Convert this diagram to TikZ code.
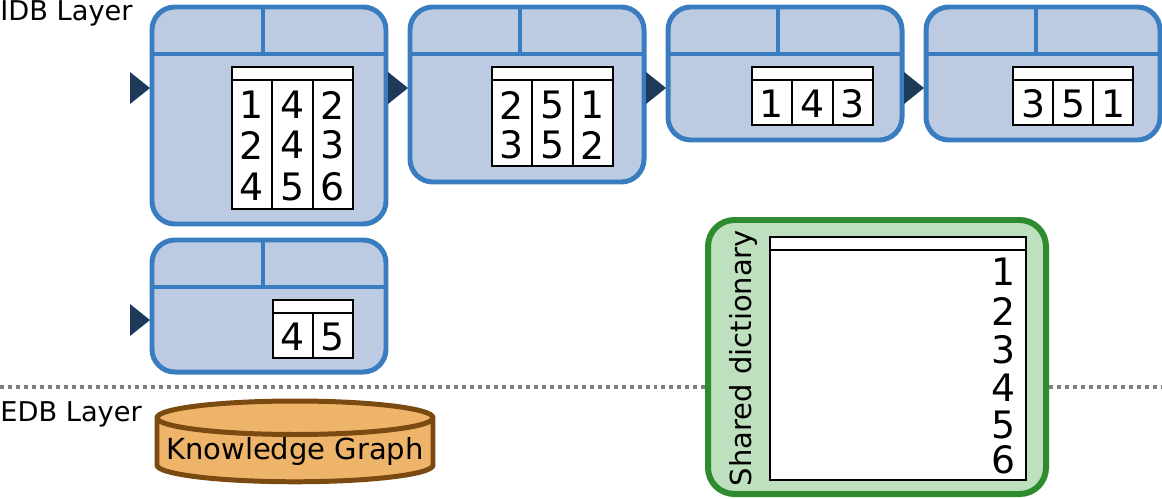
\documentclass[tikz,border=0pt]{standalone}
\usepackage{fontspec}
\setmainfont{DejaVu Sans}
\usetikzlibrary{shapes.geometric}
\definecolor{bb}{HTML}{3A7CC0}
\definecolor{bf}{HTML}{BCCBE2}
\definecolor{ar}{HTML}{1E3A5A}
\definecolor{gb}{HTML}{2E8B2E}
\definecolor{gf}{HTML}{BFE0BF}
\definecolor{ob}{HTML}{7A4A10}
\definecolor{of}{HTML}{EEB46A}
\begin{document}
\begin{tikzpicture}[x=0.02cm,y=-0.02cm,
  box/.style={draw=bb,fill=bf,line width=5*0.567pt,rounded corners=13pt},
  div/.style={draw=bb,line width=4*0.567pt},
  tab/.style={draw=black,fill=white,line width=2.5*0.567pt},
  num/.style={font=\fontsize{21.5}{23}\selectfont,inner sep=0pt},
  lab/.style={font=\fontsize{15.5}{17}\selectfont,inner sep=0pt,anchor=west},
  tri/.style={fill=ar}]
\useasboundingbox (0,0) rectangle (1162,498);
\newcommand{\mybox}[5]{%
  \draw[box] (#1,#2) rectangle (#3,#4);
  \draw[div] (#1,#2+47) -- (#3,#2+47);
  \draw[div] (#5,#2) -- (#5,#2+47);}
\mybox{152}{7}{386}{224}{263}
\mybox{410}{7}{644}{182}{520}
\mybox{668}{7}{902}{140}{778}
\mybox{926}{7}{1160}{140}{1036}
\mybox{152}{240}{386}{372}{263}
\newcommand{\mytri}[2]{\fill[tri] (#1,#2-16) -- (#1+20,#2) -- (#1,#2+16) -- cycle;}
\mytri{130}{88}\mytri{388}{88}\mytri{646}{88}\mytri{904}{88}\mytri{130}{320}
\newcommand{\mytab}[4]{%
  \draw[tab] (#1,#2) rectangle (#3,#4);
  \draw[black,line width=1.5*0.567pt] (#1,#2+13) -- (#3,#2+13);}
\mytab{232}{67}{353}{209}
\draw[line width=2*0.567pt] (272,80)--(272,209) (313,80)--(313,209);
\foreach \x/\a/\b/\c in {252/1/2/4,293/4/4/5,333/2/3/6}{
  \node[num] at (\x,105) {\a}; \node[num] at (\x,145) {\b}; \node[num] at (\x,187) {\c};}
\mytab{492}{67}{613}{166}
\draw[line width=2*0.567pt] (532,80)--(532,166) (573,80)--(573,166);
\foreach \x/\a/\b in {512/2/3,553/5/5,593/1/2}{
  \node[num] at (\x,105) {\a}; \node[num] at (\x,145) {\b};}
\mytab{752}{67}{873}{125}
\draw[line width=2*0.567pt] (792,80)--(792,125) (833,80)--(833,125);
\foreach \x/\a in {772/1,813/4,853/3}{\node[num] at (\x,104) {\a};}
\mytab{1013}{67}{1133}{125}
\draw[line width=2*0.567pt] (1053,80)--(1053,125) (1093,80)--(1093,125);
\foreach \x/\a in {1033/3,1073/5,1113/1}{\node[num] at (\x,104) {\a};}
\mytab{273}{300}{353}{358}
\draw[line width=2*0.567pt] (313,313)--(313,358);
\node[num] at (293,337) {4}; \node[num] at (333,337) {5};
\draw[gray,line width=4*0.567pt,dash pattern=on 4*0.567pt off 4*0.567pt] (0,387) -- (705,387);
\draw[gray,line width=4*0.567pt,dash pattern=on 4*0.567pt off 4*0.567pt] (1049,387) -- (1162,387);
\node[lab] (idb) at (0,13) {IDB Layer};
\node[lab] (edb) at (0,414) {EDB Layer};
\node[cylinder,shape border rotate=90,aspect=0.13,draw=ob,fill=of,line width=5*0.567pt,
  minimum width=276*0.02cm,minimum height=77*0.02cm,inner sep=0pt,
  font=\fontsize{16.5}{18}\selectfont] (kg) at (295,451) {\raisebox{-9pt}{Knowledge Graph}};
\draw[draw=gb,fill=gf,line width=6*0.567pt,rounded corners=15pt] (708,220) rectangle (1046,494);
\mytab{770}{237}{1026}{480}
\node[rotate=90,font=\fontsize{16.5}{18}\selectfont,inner sep=0pt] (sd) at (743,358) {Shared dictionary};
\foreach \y/\n in {272/1,311/2,350/3,388/4,425/5,460/6}{\node[num,anchor=east] at (1016,\y) {\n};}
\end{tikzpicture}
\end{document}
